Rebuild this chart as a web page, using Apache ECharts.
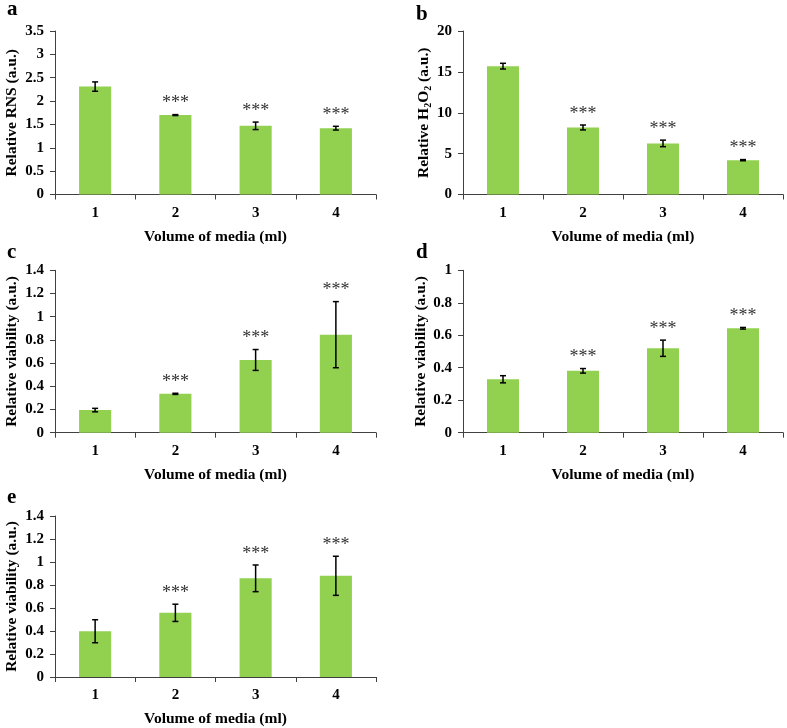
<!DOCTYPE html>
<html>
<head>
<meta charset="utf-8">
<script src="https://cdn.jsdelivr.net/npm/echarts@6/dist/echarts.min.js"></script>
<style>html,body{margin:0;padding:0;background:#fff;}#c{width:787px;height:728px;}</style>
</head>
<body>
<div id="c"></div>
<script>
const categories = ['1', '2', '3', '4'];
const rnsMean = [2.31, 1.70, 1.47, 1.42];
const rnsErr = [0.10, 0.01, 0.08, 0.04];
const h2o2Mean = [15.7, 8.2, 6.25, 4.2];
const h2o2Err = [0.35, 0.3, 0.4, 0.07];
const viabCMean = [0.195, 0.335, 0.627, 0.845];
const viabCErr = [0.015, 0.005, 0.09, 0.285];
const viabDMean = [0.329, 0.381, 0.52, 0.643];
const viabDErr = [0.022, 0.014, 0.05, 0.005];
const viabEMean = [0.398, 0.558, 0.858, 0.88];
const viabEErr = [0.1, 0.075, 0.116, 0.17];
const significant = [false, true, true, true];
const panelLetters = ['a', 'b', 'c', 'd', 'e'];
const yMax = [3.5, 20, 1.4, 1, 1.4];
const yInterval = [0.5, 5, 0.2, 0.2, 0.2];
const xTitle = 'Volume of media (ml)';

const FONT = '"Liberation Serif", "Times New Roman", serif';
const GREEN = '#92D050';
const AXIS = '#404040';

const panels = [
  {mean: rnsMean, err: rnsErr, yName: 'Relative RNS (a.u.)', grid: {left: 55, top: 31, width: 321, height: 163.5}, letter: [7, -1], nameGap: 35},
  {mean: h2o2Mean, err: h2o2Err, yName: '{n|Relative H}{s|2}{n|O}{s|2}{n| (a.u.)}', grid: {left: 463, top: 31, width: 320, height: 163.5}, letter: [416, 4], nameGap: 29},
  {mean: viabCMean, err: viabCErr, yName: 'Relative viability (a.u.)', grid: {left: 55, top: 270.3, width: 321, height: 162.4}, letter: [7, 242], nameGap: 35},
  {mean: viabDMean, err: viabDErr, yName: 'Relative viability (a.u.)', grid: {left: 463, top: 270.3, width: 320, height: 162.4}, letter: [416, 242], nameGap: 30},
  {mean: viabEMean, err: viabEErr, yName: 'Relative viability (a.u.)', grid: {left: 55, top: 516, width: 321, height: 162.7}, letter: [7, 487], nameGap: 35}
];

const grids = [], xAxes = [], yAxes = [], series = [], graphics = [];
panels.forEach((p, i) => {
  grids.push(p.grid);
  xAxes.push({
    type: 'category', gridIndex: i, data: categories,
    axisLine: {show: true, lineStyle: {color: AXIS, width: 1}},
    axisTick: {show: true, length: 5, lineStyle: {color: AXIS}},
    axisLabel: {color: '#000', fontFamily: FONT, fontWeight: 'bold', fontSize: 15, margin: 11},
    name: xTitle, nameLocation: 'middle', nameGap: 34,
    nameTextStyle: {color: '#000', fontFamily: FONT, fontWeight: 'bold', fontSize: 15.5},
    splitLine: {show: false}
  });
  const richBase = {color: '#000', fontFamily: FONT, fontWeight: 'bold', fontSize: 15.5};
  yAxes.push({
    type: 'value', gridIndex: i, min: 0, max: yMax[i], interval: yInterval[i],
    axisLine: {show: true, lineStyle: {color: AXIS, width: 1}},
    axisTick: {show: true, length: 5, lineStyle: {color: AXIS}},
    axisLabel: {color: '#000', fontFamily: FONT, fontWeight: 'bold', fontSize: 15, margin: 11},
    splitLine: {show: false},
    name: p.yName, nameLocation: 'middle', nameGap: p.nameGap, nameRotate: 90,
    nameTextStyle: Object.assign({}, richBase, {
      rich: {
        n: Object.assign({}, richBase, {lineHeight: 18}),
        s: Object.assign({}, richBase, {fontSize: 10, lineHeight: 11, verticalAlign: 'bottom'})
      }
    })
  });
  series.push({
    type: 'bar', xAxisIndex: i, yAxisIndex: i, data: p.mean, barWidth: '40%',
    itemStyle: {color: GREEN}, silent: true
  });
  series.push({
    type: 'custom', xAxisIndex: i, yAxisIndex: i, z: 5, silent: true,
    data: p.mean.map((m, k) => [k, m, p.err[k], significant[k] ? 1 : 0]),
    renderItem: function (params, api) {
      const idx = api.value(0), m = api.value(1), e = api.value(2), s = api.value(3);
      const top = api.coord([idx, m + e]);
      const bot = api.coord([idx, m - e]);
      const x = top[0], hw = 3;
      const st = {stroke: '#000', lineWidth: 1.5};
      const children = [
        {type: 'line', shape: {x1: x, y1: top[1], x2: x, y2: bot[1]}, style: st},
        {type: 'line', shape: {x1: x - hw, y1: top[1], x2: x + hw, y2: top[1]}, style: st},
        {type: 'line', shape: {x1: x - hw, y1: bot[1], x2: x + hw, y2: bot[1]}, style: st}
      ];
      if (s) {
        children.push({
          type: 'text', x: x, y: top[1] - 2,
          style: {text: '***', fill: '#333', font: '18px ' + FONT, align: 'center', verticalAlign: 'bottom', textAlign: 'center', textVerticalAlign: 'bottom'}
        });
      }
      return {type: 'group', children: children};
    }
  });
  graphics.push({
    type: 'text', left: p.letter[0], top: p.letter[1],
    style: {text: panelLetters[i], fill: '#000', font: 'bold 21px ' + FONT}
  });
});

const chart = echarts.init(document.getElementById('c'), null, {renderer: 'canvas'});
chart.setOption({
  backgroundColor: '#fff',
  animation: false,
  grid: grids, xAxis: xAxes, yAxis: yAxes, series: series, graphic: graphics
});
</script>
</body>
</html>
